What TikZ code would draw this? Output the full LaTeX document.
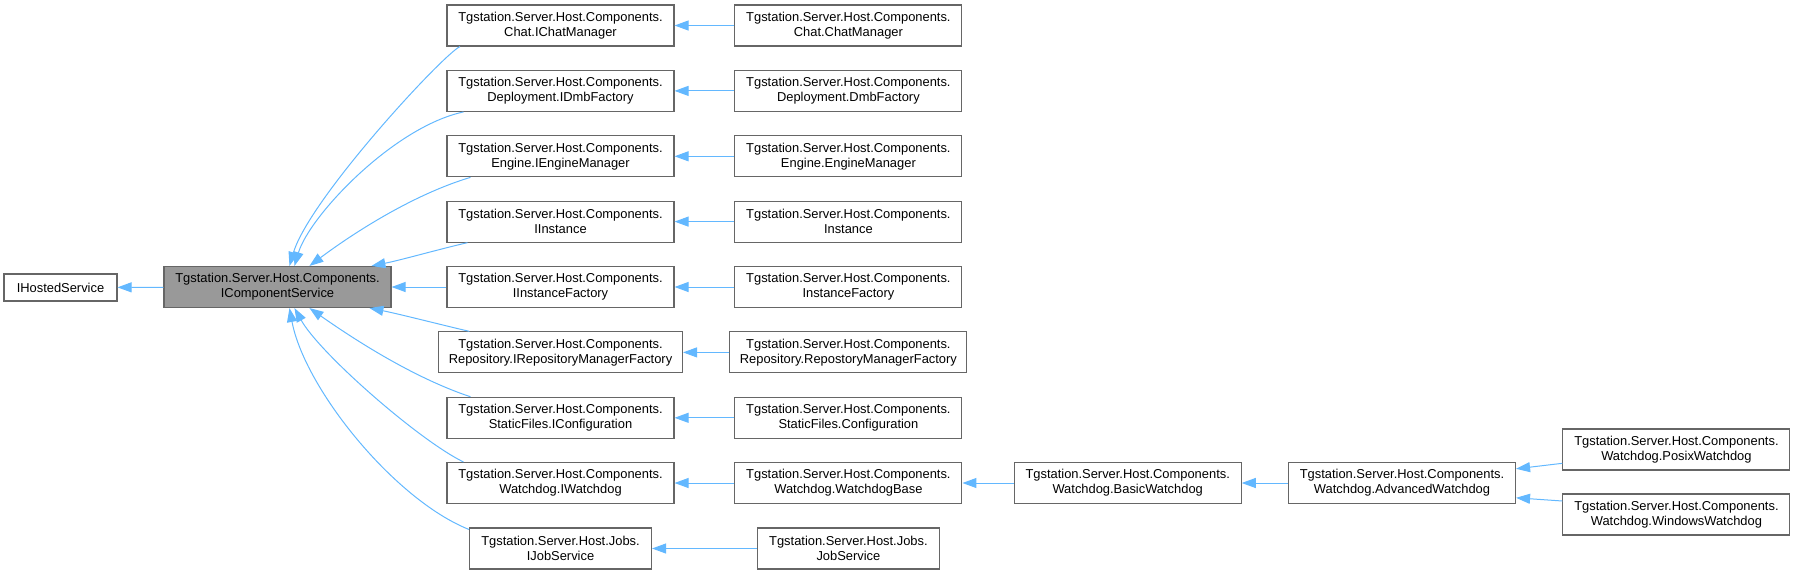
\documentclass[tikz,border=0pt]{standalone}
\usepackage{fontspec}
\setmainfont{Liberation Sans}
\usetikzlibrary{arrows.meta}
\definecolor{edgeblue}{HTML}{63B8FF}
\definecolor{nodeframe}{HTML}{666666}
\definecolor{focusfill}{HTML}{999999}
\begin{document}
\begin{tikzpicture}[x=1pt,y=-1pt,
    font=\fontsize{12.9}{15}\selectfont,
    cls/.style={draw=nodeframe,line width=1.1pt,fill=white,align=center,
        inner sep=1pt,minimum height=41pt,minimum width=#1},
    cls/.default=227pt,
    inh/.style={edgeblue,line width=1pt,-{Triangle[length=14pt,width=10pt]}}]
    \useasboundingbox (0,0) rectangle (1795,574);
    \node[cls=113pt,minimum height=27pt] (host) at (60.5,287.5) {IHostedService};
    \node[cls,fill=focusfill] (ics) at (277.5,287) {Tgstation.Server.Host.Components.\\IComponentService};
    \draw[inh] (ics) -- (host);
    \foreach \n/\y/\wa/\la/\wb/\lb in {%
        chat/25.5/227pt/Tgstation.Server.Host.Components.\\Chat.IChatManager/227pt/Tgstation.Server.Host.Components.\\Chat.ChatManager,
        dmb/90.9/227pt/Tgstation.Server.Host.Components.\\Deployment.IDmbFactory/227pt/Tgstation.Server.Host.Components.\\Deployment.DmbFactory,
        engine/156.3/227pt/Tgstation.Server.Host.Components.\\Engine.IEngineManager/227pt/Tgstation.Server.Host.Components.\\Engine.EngineManager,
        inst/221.6/227pt/Tgstation.Server.Host.Components.\\IInstance/227pt/Tgstation.Server.Host.Components.\\Instance,
        instf/287/227pt/Tgstation.Server.Host.Components.\\IInstanceFactory/227pt/Tgstation.Server.Host.Components.\\InstanceFactory,
        repo/352.4/244pt/Tgstation.Server.Host.Components.\\Repository.IRepositoryManagerFactory/237pt/Tgstation.Server.Host.Components.\\Repository.RepostoryManagerFactory,
        conf/417.8/227pt/Tgstation.Server.Host.Components.\\StaticFiles.IConfiguration/227pt/Tgstation.Server.Host.Components.\\StaticFiles.Configuration,
        wd/483/227pt/Tgstation.Server.Host.Components.\\Watchdog.IWatchdog/227pt/Tgstation.Server.Host.Components.\\Watchdog.WatchdogBase,
        job/548.5/182pt/Tgstation.Server.Host.Jobs.\\IJobService/182pt/Tgstation.Server.Host.Jobs.\\JobService}{%
        \node[cls=\wa] (I\n) at (560.5,\y) {\la};
        \node[cls=\wb] (C\n) at (848.4,\y) {\lb};
        \draw[inh] (C\n) -- (I\n);
    }
    % interfaces above and below fan into the component service
    \draw[inh] ([xshift=13.5pt]Ichat.south west) .. controls +(-18,9) and +(20,-67) .. ([xshift=126pt]ics.north west);
    \draw[inh] ([xshift=17pt]Idmb.south west) .. controls +(-70,15) and +(15,-50) .. ([xshift=131pt]ics.north west);
    \draw[inh] ([xshift=24pt]Iengine.south west) .. controls +(-60,18) and +(40,-30) .. ([xshift=146pt]ics.north west);
    \draw[inh] ([xshift=21pt]Iinst.south west) .. controls +(-30,7) and +(30,-6) .. ([xshift=208pt]ics.north west);
    \draw[inh] (Iinstf) -- (ics);
    \draw[inh] ([xshift=31.4pt]Irepo.north west) .. controls +(-30,-7) and +(30,6) .. ([xshift=206pt]ics.south west);
    \draw[inh] ([xshift=24pt]Iconf.north west) .. controls +(-60,-20) and +(40,28) .. ([xshift=146pt]ics.south west);
    \draw[inh] ([xshift=17pt]Iwd.north west) .. controls +(-45,-22) and +(25,45) .. ([xshift=131pt]ics.south west);
    \draw[inh] ([yshift=-2pt]Ijob.north west) .. controls +(-75,-30) and +(15,80) .. ([xshift=126pt]ics.south west);
    % watchdog chain
    \node[cls] (basic) at (1127.7,483) {Tgstation.Server.Host.Components.\\Watchdog.BasicWatchdog};
    \node[cls] (adv) at (1402,483) {Tgstation.Server.Host.Components.\\Watchdog.AdvancedWatchdog};
    \node[cls] (posix) at (1676.4,449.5) {Tgstation.Server.Host.Components.\\Watchdog.PosixWatchdog};
    \node[cls] (win) at (1676.4,514.5) {Tgstation.Server.Host.Components.\\Watchdog.WindowsWatchdog};
    \draw[inh] (basic) -- (Cwd);
    \draw[inh] (adv) -- (basic);
    \draw[inh] ([yshift=-13.8pt]posix.west) -- ([yshift=14.2pt]adv.east);
    \draw[inh] ([yshift=13.5pt]win.west) -- ([yshift=-14.8pt]adv.east);
\end{tikzpicture}
\end{document}
